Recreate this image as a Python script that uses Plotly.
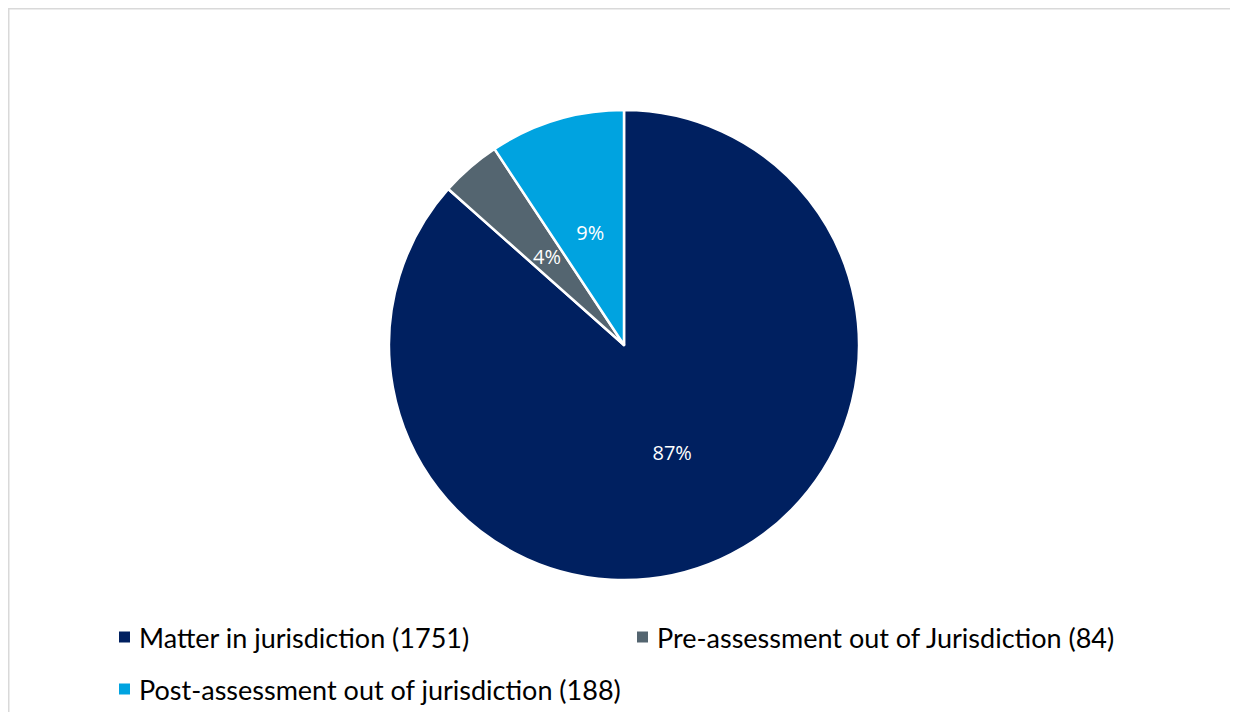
import plotly.graph_objects as go

labels = ["Matter in jurisdiction (1751)", "Pre-assessment out of Jurisdiction (84)", "Post-assessment out of jurisdiction (188)"]
values = [1751, 84, 188]
colors = ["#002060", "#546570", "#00A3E0"]

# page has an 8px body margin; figure coordinates below are page - 8
W, H = 1230, 704
cx, cy, r = 616, 337, 235

def dom(rad):
    return dict(x=[(cx - rad) / W, (cx + rad) / W], y=[1 - (cy + rad) / H, 1 - (cy - rad) / H])

pct = "%{percent:.0%}"
big = [pct if v / sum(values) > 0.5 else "" for v in values]
small = ["" if v / sum(values) > 0.5 else pct for v in values]

fig = go.Figure()
# main pie (label only for the large slice)
fig.add_trace(go.Pie(
    labels=labels, values=values, sort=False, direction="clockwise", rotation=0,
    marker=dict(colors=colors, line=dict(color="white", width=2.5)),
    texttemplate=big, textposition="inside", insidetextorientation="horizontal",
    textfont=dict(family="Open Sans", size=20, color="white"),
    domain=dom(r), showlegend=False,
    hoverinfo="label+value+percent",
))
# transparent overlay used only to place small-slice labels at half radius
hole = 0.8
r2 = 0.5 * r / ((1 + hole) / 2)
fig.add_trace(go.Pie(
    labels=labels, values=values, sort=False, direction="clockwise", rotation=0,
    hole=hole,
    marker=dict(colors=["rgba(0,0,0,0)"] * len(values), line=dict(width=0)),
    texttemplate=small, textposition="inside",
    insidetextorientation="horizontal",
    textfont=dict(family="Open Sans", size=20, color="white"),
    domain=dom(r2), showlegend=False, hoverinfo="skip",
))

# manual legend (two columns, large row spacing)
leg_x = [111, 629, 111]
leg_y = [629, 629, 681]
shapes = []
annotations = []
for lab, col, lx, ly in zip(labels, colors, leg_x, leg_y):
    shapes.append(dict(type="rect", xref="paper", yref="paper",
                       x0=lx / W, x1=(lx + 11) / W, y0=1 - (ly + 5.5) / H, y1=1 - (ly - 5.5) / H,
                       line=dict(width=0), fillcolor=col))
    annotations.append(dict(text=lab, xref="paper", yref="paper", x=(lx + 18) / W, y=1 - ly / H,
                            xanchor="left", yanchor="middle", showarrow=False,
                            font=dict(family="Lato", size=27, color="#000000")))

shapes.append(dict(type="rect", xref="paper", yref="paper",
                   x0=0.5 / W, x1=1.05, y0=-0.05, y1=1 - 0.5 / H,
                   line=dict(color="#D9D9D9", width=2), fillcolor="rgba(0,0,0,0)", layer="below"))

fig.update_layout(
    width=W, height=H,
    margin=dict(l=0, r=0, t=0, b=0),
    paper_bgcolor="white",
    showlegend=False,
    uniformtext=dict(minsize=20, mode="show"),
    shapes=shapes,
    annotations=annotations,
)

fig.write_html("out.html")
